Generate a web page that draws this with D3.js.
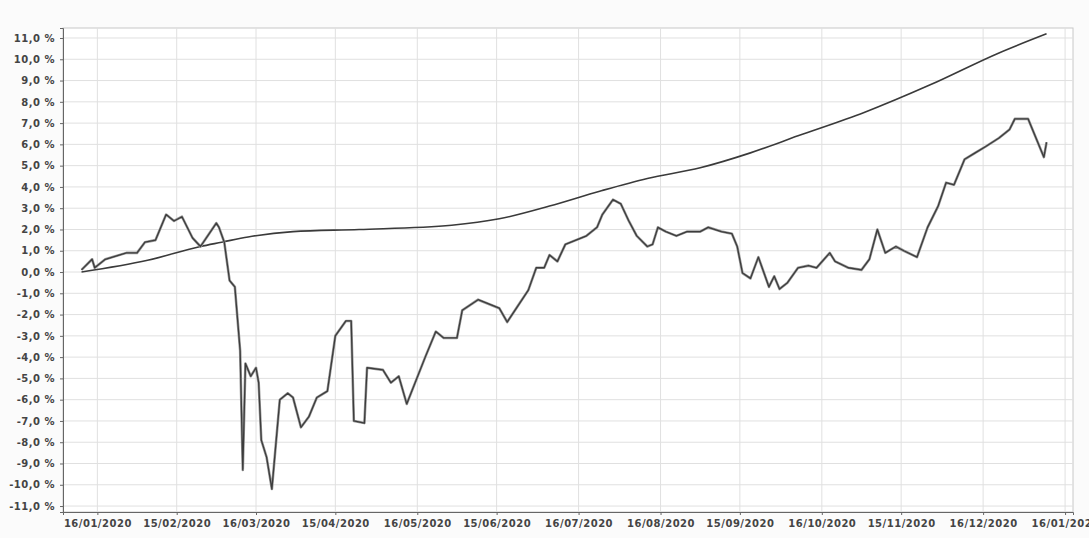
<!DOCTYPE html>
<html>
<head>
<meta charset="utf-8">
<script src="https://cdn.jsdelivr.net/npm/d3@7"></script>
<style>
  html, body { margin: 0; padding: 0; background: #fbfbfb; }
  svg { display: block; }
  .tick text { font-family: "DejaVu Sans", sans-serif; }
</style>
</head>
<body>
<svg id="chart" width="1089" height="538"></svg>
<script>
// ---- data ----
const xTickDates = ["2020-01-16","2020-02-15","2020-03-16","2020-04-15","2020-05-16","2020-06-15",
  "2020-07-16","2020-08-16","2020-09-15","2020-10-16","2020-11-15","2020-12-16","2021-01-16"];
const xTickLabels = ["16/01/2020","15/02/2020","16/03/2020","15/04/2020","16/05/2020","15/06/2020",
  "16/07/2020","16/08/2020","15/09/2020","16/10/2020","15/11/2020","16/12/2020","16/01/2021"];
const yTickValues = [11,10,9,8,7,6,5,4,3,2,1,0,-1,-2,-3,-4,-5,-6,-7,-8,-9,-10,-11];
const yTickLabels = ["11,0 %","10,0 %","9,0 %","8,0 %","7,0 %","6,0 %","5,0 %","4,0 %","3,0 %","2,0 %","1,0 %","0,0 %",
  "-1,0 %","-2,0 %","-3,0 %","-4,0 %","-5,0 %","-6,0 %","-7,0 %","-8,0 %","-9,0 %","-10,0 %","-11,0 %"];

// smooth (benchmark) series
const benchDates = ["2020-01-10","2020-02-04","2020-02-24","2020-03-03","2020-03-13","2020-03-30","2020-04-24",
  "2020-05-29","2020-06-16","2020-07-05","2020-07-24","2020-08-11","2020-08-31","2020-09-19","2020-10-07",
  "2020-11-01","2020-11-26","2020-12-22","2021-01-09"];
const benchValues = [0.0,0.55,1.2,1.4,1.65,1.9,2.0,2.2,2.5,3.1,3.8,4.4,4.9,5.6,6.4,7.5,8.8,10.3,11.2];

// volatile (fund) series
const fundDates = ["2020-01-10","2020-01-14","2020-01-15","2020-01-19","2020-01-27","2020-01-31","2020-02-03",
  "2020-02-07","2020-02-11","2020-02-14","2020-02-17","2020-02-21","2020-02-24","2020-03-01","2020-03-02",
  "2020-03-04","2020-03-06","2020-03-08","2020-03-10","2020-03-11","2020-03-12","2020-03-14","2020-03-16",
  "2020-03-17","2020-03-18","2020-03-20","2020-03-22","2020-03-25","2020-03-28","2020-03-30","2020-04-02",
  "2020-04-05","2020-04-08","2020-04-12","2020-04-15","2020-04-19","2020-04-21","2020-04-22","2020-04-26",
  "2020-04-27","2020-05-03","2020-05-06","2020-05-09","2020-05-12","2020-05-19","2020-05-23","2020-05-26",
  "2020-05-31","2020-06-02","2020-06-08","2020-06-12","2020-06-16","2020-06-19","2020-06-23","2020-06-27",
  "2020-06-30","2020-07-03","2020-07-05","2020-07-08","2020-07-11","2020-07-15","2020-07-19","2020-07-23",
  "2020-07-25","2020-07-29","2020-08-01","2020-08-04","2020-08-07","2020-08-11","2020-08-13","2020-08-15",
  "2020-08-18","2020-08-22","2020-08-26","2020-08-31","2020-09-03","2020-09-08","2020-09-12","2020-09-14",
  "2020-09-16","2020-09-19","2020-09-22","2020-09-24","2020-09-26","2020-09-28","2020-09-30","2020-10-03",
  "2020-10-07","2020-10-11","2020-10-14","2020-10-19","2020-10-21","2020-10-26","2020-10-31","2020-11-03",
  "2020-11-06","2020-11-09","2020-11-13","2020-11-16","2020-11-21","2020-11-25","2020-11-29","2020-12-02",
  "2020-12-05","2020-12-09","2020-12-13","2020-12-17","2020-12-22","2020-12-26","2020-12-28","2021-01-02",
  "2021-01-08","2021-01-09"];
const fundValues = [0.1,0.6,0.2,0.6,0.9,0.9,1.4,
  1.5,2.7,2.4,2.6,1.6,1.2,2.3,2.1,
  1.4,-0.4,-0.7,-3.7,-9.3,-4.3,-4.9,-4.5,
  -5.2,-7.9,-8.7,-10.2,-6.0,-5.7,-5.9,-7.3,
  -6.8,-5.9,-5.6,-3.0,-2.3,-2.3,-7.0,-7.1,
  -4.5,-4.6,-5.2,-4.9,-6.2,-4.0,-2.8,-3.1,
  -3.1,-1.8,-1.3,-1.5,-1.7,-2.35,-1.6,-0.85,
  0.2,0.2,0.8,0.5,1.3,1.5,1.7,2.1,
  2.7,3.4,3.2,2.4,1.7,1.2,1.3,2.1,
  1.9,1.7,1.9,1.9,2.1,1.9,1.8,1.2,
  -0.05,-0.3,0.7,0.0,-0.7,-0.2,-0.8,-0.5,
  0.2,0.3,0.2,0.9,0.5,0.2,0.1,0.6,
  2.0,0.9,1.2,1.0,0.7,2.1,3.1,4.2,
  4.1,5.3,5.6,5.9,6.3,6.7,7.2,7.2,
  5.4,6.1];

// ---- chart ----
const parse = d3.timeParse("%Y-%m-%d");
const svg = d3.select("#chart");
const m = { left: 63, right: 1073, top: 28, bottom: 512 };

const x = d3.scaleTime()
  .domain([parse("2020-01-03"), parse("2021-01-19")])
  .range([m.left, m.right]);
const y = d3.scaleLinear()
  .domain([-11.28, 11.47])
  .range([m.bottom, m.top]);

// plot background
svg.append("rect").attr("x", m.left).attr("y", m.top)
  .attr("width", m.right - m.left).attr("height", m.bottom - m.top)
  .attr("fill", "#ffffff").attr("stroke", "#c8c8c8");

// gridlines
svg.append("g").selectAll("line").data(yTickValues).join("line")
  .attr("x1", m.left).attr("x2", m.right)
  .attr("y1", d => y(d)).attr("y2", d => y(d))
  .attr("stroke", "#e0e0e0").attr("stroke-width", 1);
svg.append("g").selectAll("line").data(xTickDates).join("line")
  .attr("x1", d => x(parse(d))).attr("x2", d => x(parse(d)))
  .attr("y1", m.top).attr("y2", m.bottom)
  .attr("stroke", "#e0e0e0").attr("stroke-width", 1);

// axes
const yAxis = d3.axisLeft(y).tickValues(yTickValues)
  .tickFormat((d, i) => yTickLabels[i]).tickSize(3).tickPadding(5);
const gy = svg.append("g").attr("transform", `translate(${m.left},0)`).call(yAxis);
gy.select(".domain").attr("stroke", "#666");
gy.selectAll(".tick line").attr("stroke", "#666");
gy.selectAll(".tick text").attr("font-size", "10px").attr("font-weight", "bold")
  .attr("letter-spacing", "0.5px").attr("fill", "#444");

const xAxis = d3.axisBottom(x).tickValues(xTickDates.map(parse))
  .tickFormat((d, i) => xTickLabels[i]).tickSize(3).tickPadding(5);
const gx = svg.append("g").attr("transform", `translate(0,${m.bottom})`).call(xAxis);
gx.select(".domain").attr("stroke", "#666");
gx.selectAll(".tick line").attr("stroke", "#666");
gx.selectAll(".tick text").attr("font-size", "10px").attr("font-weight", "bold")
  .attr("letter-spacing", "0.5px").attr("fill", "#444");

// lines
const bench = benchDates.map((d, i) => ({ date: parse(d), v: benchValues[i] }));
const fund = fundDates.map((d, i) => ({ date: parse(d), v: fundValues[i] }));

const line = d3.line().x(d => x(d.date)).y(d => y(d.v));
const smoothLine = d3.line().x(d => x(d.date)).y(d => y(d.v)).curve(d3.curveMonotoneX);

svg.append("path").datum(bench).attr("d", smoothLine)
  .attr("fill", "none").attr("stroke", "#3a3a3a").attr("stroke-width", 1.6);
svg.append("path").datum(fund).attr("d", line)
  .attr("fill", "none").attr("stroke", "#9a9a9a").attr("stroke-width", 2.6).attr("stroke-linejoin", "round");
svg.append("path").datum(fund).attr("d", line)
  .attr("fill", "none").attr("stroke", "#3c3c3c").attr("stroke-width", 1.3).attr("stroke-linejoin", "round");
</script>
</body>
</html>
